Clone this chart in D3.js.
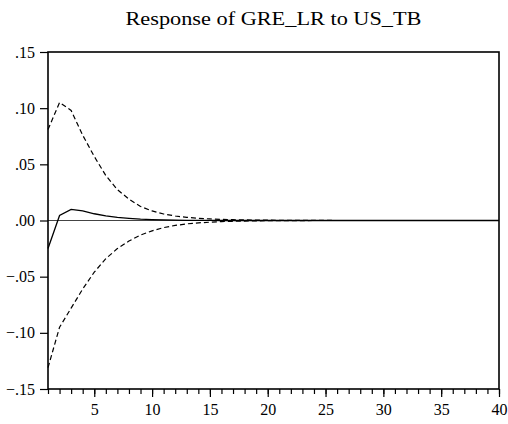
<!DOCTYPE html>
<html>
<head>
<meta charset="utf-8">
<script src="https://cdn.jsdelivr.net/npm/d3@7"></script>
</head>
<body style="margin:0;background:#fff">
<div id="chart"></div>
<script>
const title = "Response of GRE_LR to US_TB"
const periods = d3.range(1, 41)
const response = [-0.025, 0.0045, 0.0099, 0.0085, 0.006, 0.0042, 0.0028, 0.0019, 0.0012, 0.0008,
  0.0005, 0.0003, 0.0002, 0.0001, 0.0001, 0, 0, 0, 0, 0,
  0, 0, 0, 0, 0, 0, 0, 0, 0, 0,
  0, 0, 0, 0, 0, 0, 0, 0, 0, 0]
const upper = [0.081, 0.105, 0.098, 0.076, 0.057, 0.040, 0.0275, 0.019, 0.0125, 0.0085,
  0.0058, 0.004, 0.0028, 0.002, 0.0014, 0.001, 0.0007, 0.0005, 0.0004, 0.0003,
  0.0002, 0.0002, 0.0001, 0.0001, 0.0001, 0, 0, 0, 0, 0,
  0, 0, 0, 0, 0, 0, 0, 0, 0, 0]
const lower = [-0.131, -0.095, -0.078, -0.061, -0.046, -0.034, -0.025, -0.0183, -0.013, -0.0092,
  -0.0063, -0.0044, -0.003, -0.0021, -0.0015, -0.001, -0.0007, -0.0005, -0.0003, -0.0002,
  -0.0002, -0.0001, -0.0001, 0, 0, 0, 0, 0, 0, 0,
  0, 0, 0, 0, 0, 0, 0, 0, 0, 0]
const yTicks = [-0.15, -0.10, -0.05, 0.00, 0.05, 0.10, 0.15]
const xTicks = [5, 10, 15, 20, 25, 30, 35, 40]

const serif = "font-family:'Liberation Serif';"

const margin = { top: 52, right: 9, bottom: 35, left: 48 },
  fullWidth = 508, fullHeight = 424,
  width = fullWidth - margin.left - margin.right,
  height = fullHeight - margin.top - margin.bottom

const svg = d3.select("#chart").append("svg")
  .attr("width", fullWidth)
  .attr("height", fullHeight)

const g = svg.append("g")
  .attr("transform", "translate(" + margin.left + "," + margin.top + ")")

const x = d3.scaleLinear().domain([1, 40]).range([0, width])
const y = d3.scaleLinear().domain([-0.15, 0.15]).range([height, 0])

// zero line
g.append("line")
  .attr("x1", 0).attr("x2", width)
  .attr("y1", y(0)).attr("y2", y(0))
  .attr("stroke", "#444").attr("stroke-width", 1)

const line = d3.line()
  .x((d, i) => x(periods[i]))
  .y(d => y(d))

g.append("path").datum(upper)
  .attr("d", line).attr("fill", "none")
  .attr("stroke", "#000").attr("stroke-width", 1.2)
  .attr("stroke-dasharray", "5,3")

g.append("path").datum(lower)
  .attr("d", line).attr("fill", "none")
  .attr("stroke", "#000").attr("stroke-width", 1.2)
  .attr("stroke-dasharray", "5,3")

g.append("path").datum(response)
  .attr("d", line).attr("fill", "none")
  .attr("stroke", "#000").attr("stroke-width", 1.3)

// frame
g.append("rect")
  .attr("width", width).attr("height", height)
  .attr("fill", "none").attr("stroke", "#000").attr("stroke-width", 1.6)

// y axis
const fmt = d => d3.format(".2f")(d).replace("0.", ".")
const yAxis = g.append("g")
  .call(d3.axisLeft(y).tickValues(yTicks).tickSize(8).tickFormat(fmt))
yAxis.select(".domain").remove()
yAxis.selectAll("text")
  .attr("x", -13).attr("dy", "0.32em")
  .attr("style", serif + "font-size:16px")

// x axis: minor ticks each period, labels every 5
const xAxisMinor = g.append("g")
  .attr("transform", "translate(0," + height + ")")
  .call(d3.axisBottom(x).tickValues(periods).tickSize(5).tickFormat(""))
xAxisMinor.select(".domain").remove()

const xAxis = g.append("g")
  .attr("transform", "translate(0," + height + ")")
  .call(d3.axisBottom(x).tickValues(xTicks).tickSize(8))
xAxis.select(".domain").remove()
xAxis.selectAll("text")
  .attr("y", 15)
  .attr("style", serif + "font-size:16px")

svg.selectAll(".tick line").attr("stroke-width", 1.2)

svg.append("text")
  .attr("x", margin.left + width / 2)
  .attr("y", 25)
  .attr("text-anchor", "middle")
  .attr("textLength", 296)
  .attr("lengthAdjust", "spacingAndGlyphs")
  .attr("style", serif + "font-size:18px")
  .text(title)
</script>
</body>
</html>
